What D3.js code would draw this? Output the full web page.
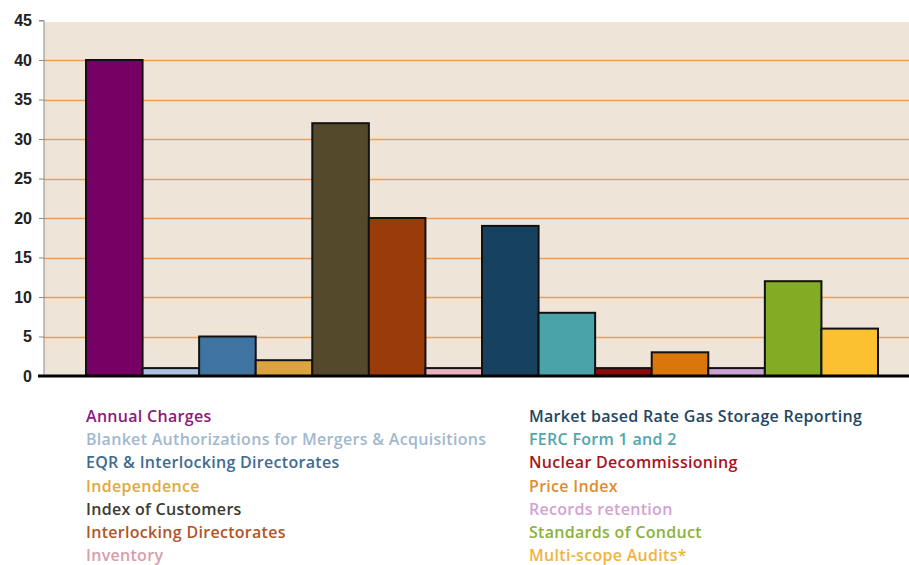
<!DOCTYPE html>
<html><head><meta charset="utf-8">
<script src="https://cdn.jsdelivr.net/npm/d3@7"></script>
<style>
html,body{margin:0;padding:0;background:#fff;}
svg{display:block;}
</style></head>
<body>
<svg id="chart" width="909" height="565"></svg>
<script>
const categories = ["Annual Charges","Blanket Authorizations for Mergers & Acquisitions","EQR & Interlocking Directorates","Independence","Index of Customers","Interlocking Directorates","Inventory","Market based Rate Gas Storage Reporting","FERC Form 1 and 2","Nuclear Decommissioning","Price Index","Records retention","Standards of Conduct","Multi-scope Audits*"];
const values = [40,1,5,2,32,20,1,19,8,1,3,1,12,6];
const barColors = ["#760063","#a9c1dd","#3f74a1","#dba43f","#544a2b","#9a3c0a","#e9b3bd","#17425f","#4aa3a8","#8a0b0b","#d9770b","#c9a1d3","#84ab24","#fbc131"];
const legendColors = ["#8c1a7c","#a2b8cf","#3f6b90","#e3a93c","#3a3a30","#b0552a","#d99cab","#1f4662","#50a6ab","#a5141e","#e08b2f","#d2a3d2","#8ab23a","#f0b33f"];
const yTicks = [0,5,10,15,20,25,30,35,40,45];

const svg = d3.select("#chart");
const plot = {left:44, right:920, top:22, bottom:376};

const y = d3.scaleLinear().domain([0,45]).range([plot.bottom, 20.5]);
const x = d3.scaleBand().domain(categories).range([plot.left+42, plot.right-42]).padding(0);

// background
svg.append("rect").attr("x",plot.left).attr("y",plot.top).attr("width",909-plot.left).attr("height",plot.bottom-plot.top).attr("fill","#efe4d8");

// gridlines
svg.append("g").selectAll("line").data(yTicks.filter(d=>d>0 && d<45)).join("line")
  .attr("x1",plot.left).attr("x2",909).attr("y1",d=>Math.round(y(d))+0.5).attr("y2",d=>Math.round(y(d))+0.5)
  .attr("stroke","#ec9f55").attr("stroke-width",1.4);

// y axis
const yAxis = d3.axisLeft(y).tickValues(yTicks).tickSize(5).tickPadding(7);
const gy = svg.append("g").attr("transform",`translate(${plot.left},0)`).call(yAxis);
gy.select(".domain").attr("stroke","#8a8a8a").attr("d",`M-5,${y(45)}H0V${plot.bottom}`);
gy.selectAll(".tick line").attr("stroke","#8a8a8a");
gy.selectAll(".tick text").attr("font-family","Liberation Sans, Arial, sans-serif").attr("font-weight","bold").attr("font-size","16px").attr("fill","#222");

// bars
svg.append("g").selectAll("rect").data(categories).join("rect")
  .attr("x",d=>x(d)).attr("width",x.bandwidth())
  .attr("y",(d,i)=>y(values[i])).attr("height",(d,i)=>plot.bottom-y(values[i]))
  .attr("fill",(d,i)=>barColors[i]).attr("stroke","#111").attr("stroke-width",2);

// baseline
svg.append("line").attr("x1",38).attr("x2",909).attr("y1",plot.bottom).attr("y2",plot.bottom).attr("stroke","#000").attr("stroke-width",3);

// legend
const lg = svg.append("g").attr("font-family","'Open Sans', sans-serif").attr("font-size","16px").attr("letter-spacing","0.3px");
lg.selectAll("text").data(categories).join("text")
  .attr("x",(d,i)=> i<7 ? 86 : 529)
  .attr("y",(d,i)=> 422 + (i%7)*23.2)
  .attr("fill",(d,i)=>legendColors[i])
  .attr("font-weight","600")
  .text(d=>d);
</script>
</body></html>
